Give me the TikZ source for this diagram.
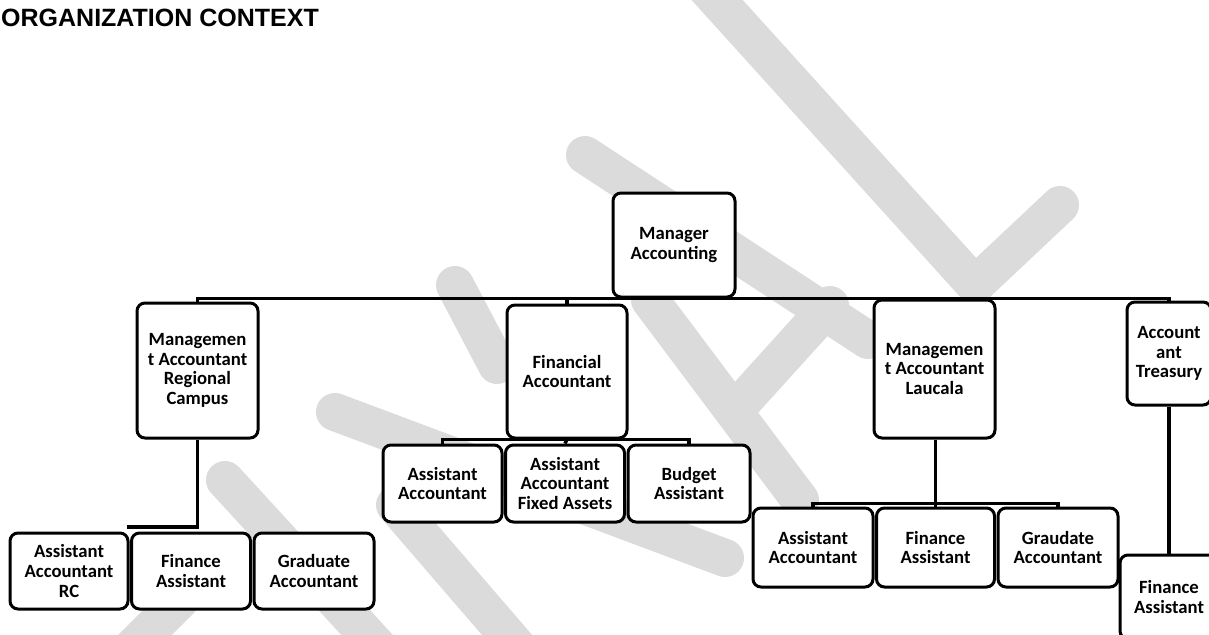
\documentclass[tikz,border=0pt]{standalone}
\usepackage{fontspec}
\setmainfont{Carlito}
\newfontfamily\titlefont{Liberation Sans}
\usetikzlibrary{positioning}

\tikzset{
  post/.style={draw, line width=3pt, rounded corners=8pt, fill=white,
    align=center, inner sep=1pt, font=\bfseries\fontsize{18.7}{19.8}\selectfont},
  link/.style={line width=3.4pt},
  band/.style={line width=38pt, line cap=round, gray!28}
}

\begin{document}
\begin{tikzpicture}[x=1pt, y=-1pt, node distance=0.5pt]
    \useasboundingbox (0,0) rectangle (1209,634);
    \clip (0,0) rectangle (1209,634);

    % watermark
    \draw[band] (690,-30) -- (975,285) -- (1060,205);
    \draw[band] (585,155) -- (868,340);
    \draw[band] (830,305) -- (735,410);
    \draw[band] (650,300) -- (800,500);
    \draw[band] (455,285) -- (497,365);
    \draw[band] (335,412) -- (725,558);
    \draw[band] (395,505) -- (520,650);
    \draw[band] (225,480) -- (390,660);
    \draw[band] (180,600) -- (120,660);

    \node[anchor=base west, inner sep=0pt, font=\titlefont\bfseries\fontsize{25}{30}\selectfont] (title) at (1,27) {ORGANIZATION CONTEXT};

    \node[post, minimum width=122pt, minimum height=104pt] (mgr) at (674,245) {Manager\\Accounting};

    \node[post, minimum width=121pt, minimum height=135pt] (mreg) at (197.5,370.5) {Managemen\\t Accountant\\Regional\\Campus};
    \node[post, minimum width=120pt, minimum height=133pt] (fin) at (567,371.5) {Financial\\Accountant};
    \node[post, minimum width=121pt, minimum height=138pt] (mlau) at (934.5,369) {Managemen\\t Accountant\\Laucala};
    \node[post, minimum width=84pt, minimum height=103pt] (treas) at (1169,353.5) {Account\\ant\\Treasury};

    \node[post, minimum width=118pt, minimum height=76pt] (rc) at (69,571) {Assistant\\Accountant\\RC};
    \node[post, minimum width=119pt, minimum height=76pt] (fa1) [right=of rc] {Finance\\Assistant};
    \node[post, minimum width=120pt, minimum height=76pt] (ga1) [right=of fa1] {Graduate\\Accountant};

    \node[post, minimum width=119pt, minimum height=77pt] (aa2) at (442.5,483.5) {Assistant\\Accountant};
    \node[post, minimum width=119pt, minimum height=77pt] (aafa) [right=of aa2] {Assistant\\Accountant\\Fixed Assets};
    \node[post, minimum width=122pt, minimum height=77pt] (ba) [right=of aafa] {Budget\\Assistant};

    \node[post, minimum width=120pt, minimum height=79pt] (aa3) at (813,547.5) {Assistant\\Accountant};
    \node[post, minimum width=118pt, minimum height=79pt] (fa3) [right=of aa3] {Finance\\Assistant};
    \node[post, minimum width=120pt, minimum height=79pt] (ga3) [right=of fa3] {Graudate\\Accountant};

    \node[post, minimum width=98pt, minimum height=84pt] (fa4) at (1169,597) {Finance\\Assistant};

    \coordinate (regend) at (127,527);

    \draw[link] (mreg.north) |- (mgr.south) -| (treas.north);
    \draw[link] (mgr.south) -| (fin.north);
    \draw[link] (mgr.south) -| (mlau.north);
    \draw[link] (mreg.south) |- (regend);
    \draw[link] (aa2.north) |- (fin.south) -| (ba.north);
    \draw[link] (fin.south) -- (aafa.north);
    \draw[link] (fa3.north) -- (fa3.north |- mlau.south);
    \draw[link] (aa3.north) -- ++(0,-3) -| (ga3.north);
    \draw[link] (treas.south) -- (fa4.north);
\end{tikzpicture}
\end{document}
